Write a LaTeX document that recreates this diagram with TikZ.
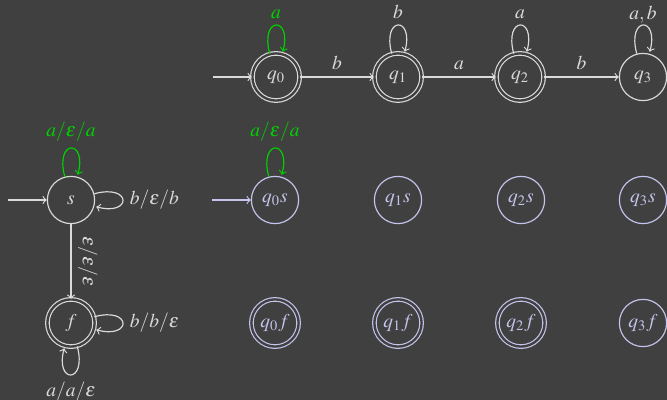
\documentclass[tikz,border=0pt]{standalone}
\usepackage{mathptmx}
\usetikzlibrary{automata}
\definecolor{bggray}{RGB}{64,64,64}
\definecolor{fggray}{RGB}{218,218,218}
\definecolor{lavender}{RGB}{196,196,236}
\definecolor{loopgreen}{RGB}{0,210,0}
\begin{document}
\begin{tikzpicture}[x = .018cm, y = -.018cm, >=to, semithick,
    every state/.style = {minimum size = .85cm, inner sep = 0pt},
    accepting/.style = {double = bggray, double distance = 1.2pt},
    initial text = , initial distance = .7cm]
  \fill [bggray] (0,0) rectangle (667,400);
  \useasboundingbox (0,0) rectangle (667,400);
  % the DFA on top
  \begin{scope}[fggray]
    \node [state, initial, accepting] (q0) at (276,77) {$q_0$};
    \node [state, accepting] (q1) at (398,77) {$q_1$};
    \node [state, accepting] (q2) at (520,77) {$q_2$};
    \node [state] (q3) at (643,77) {$q_3$};
    \path [->] (q0) edge [loop above, loopgreen] node {$a$} ()
                    edge node [above] {$b$} (q1)
               (q1) edge [loop above] node {$b$} ()
                    edge node [above] {$a$} (q2)
               (q2) edge [loop above] node {$a$} ()
                    edge node [above] {$b$} (q3)
               (q3) edge [loop above] node [inner sep = 1pt] {$a,b$} ();
  \end{scope}
  % the PDA on the left
  \begin{scope}[fggray]
    \node [state, initial] (s) at (71,200) {$s$};
    \node [state, accepting] (f) at (71,323) {$f$};
    \path [->] (s) edge [loop above, loopgreen] node {$a/\varepsilon/a$} ()
                   edge [loop right] node {$b/\varepsilon/b$} ()
                   edge node [above, sloped] {$\varepsilon/\varepsilon/\varepsilon$} (f)
               (f) edge [loop right] node {$b/b/\varepsilon$} ()
                   edge [loop below] node {$a/a/\varepsilon$} ();
  \end{scope}
  % the product
  \begin{scope}[lavender]
    \node [state, initial] (q0s) at (275,200) {$q_0s$};
    \node [state] (q1s) at (398,200) {$q_1s$};
    \node [state] (q2s) at (521,200) {$q_2s$};
    \node [state] (q3s) at (643,200) {$q_3s$};
    \node [state, accepting] (q0f) at (275,323) {$q_0f$};
    \node [state, accepting] (q1f) at (398,323) {$q_1f$};
    \node [state, accepting] (q2f) at (521,323) {$q_2f$};
    \node [state] (q3f) at (643,323) {$q_3f$};
    \path [->] (q0s) edge [loop above, loopgreen] node {$a/\varepsilon/a$} ();
  \end{scope}
\end{tikzpicture}
\end{document}
